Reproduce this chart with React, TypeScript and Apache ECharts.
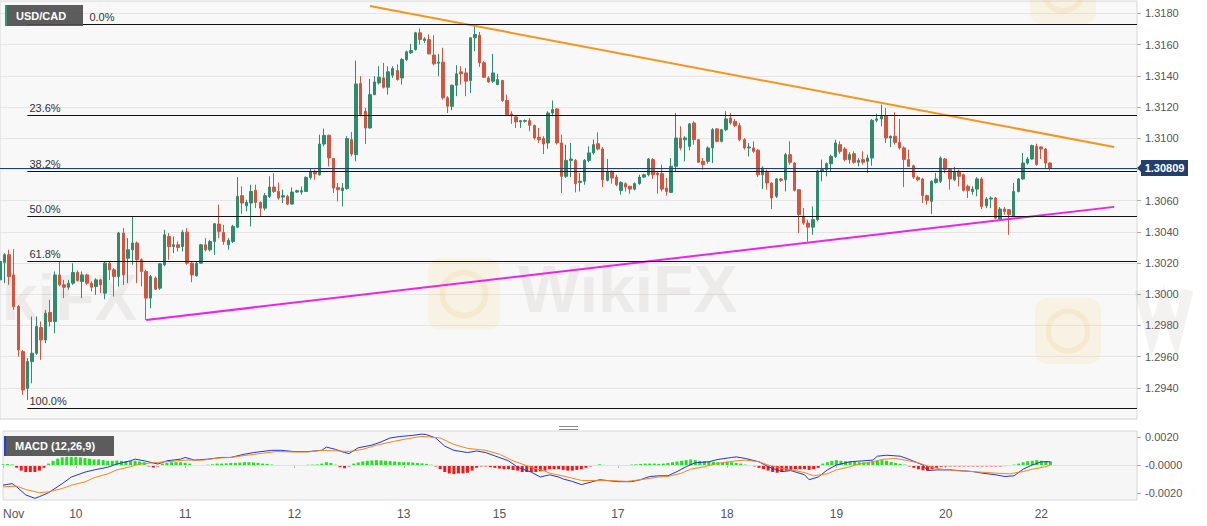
import React, { useEffect, useRef } from "react";
import * as echarts from "echarts";

// Hourly USD/CAD candles, each item: [open, close, low, high]
const candles: number[][] = [
  [1.30092, 1.3021, 1.30028, 1.30215], [1.30204, 1.30253, 1.30071, 1.30264], [1.30253, 1.30114, 1.3006, 1.30285],
  [1.30124, 1.29921, 1.299, 1.30289], [1.29921, 1.29643, 1.296, 1.2993], [1.29632, 1.29386, 1.29354, 1.29643],
  [1.29397, 1.29568, 1.29322, 1.2959], [1.29568, 1.29622, 1.29429, 1.29857], [1.29622, 1.29793, 1.29611, 1.29857],
  [1.29786, 1.29707, 1.29579, 1.29825], [1.29707, 1.29878, 1.29686, 1.299], [1.29883, 1.29825, 1.29793, 1.29964],
  [1.29825, 1.30124, 1.2975, 1.30146], [1.30124, 1.3006, 1.3005, 1.3021], [1.3006, 1.30045, 1.29975, 1.30092],
  [1.30045, 1.30071, 1.30028, 1.30092], [1.30071, 1.30139, 1.3006, 1.30199], [1.30139, 1.30088, 1.30082, 1.30153],
  [1.30082, 1.30124, 1.29975, 1.30146], [1.30124, 1.30071, 1.3006, 1.30131], [1.30071, 1.30045, 1.30018, 1.30082],
  [1.3005, 1.30092, 1.29996, 1.30103], [1.30092, 1.3006, 1.30007, 1.30099], [1.30007, 1.30199, 1.29968, 1.3021],
  [1.30199, 1.30157, 1.30092, 1.3021], [1.30157, 1.30114, 1.29985, 1.30167], [1.30114, 1.30392, 1.3005, 1.304],
  [1.30392, 1.30124, 1.3006, 1.30424], [1.30231, 1.30285, 1.30071, 1.3036], [1.30285, 1.30328, 1.30189, 1.30499],
  [1.30328, 1.30221, 1.30071, 1.30338], [1.30221, 1.30146, 1.3005, 1.30231], [1.30146, 1.29975, 1.29835, 1.30157],
  [1.29975, 1.30114, 1.2991, 1.30124], [1.30103, 1.30032, 1.30028, 1.30114], [1.30039, 1.30195, 1.30028, 1.30199],
  [1.30189, 1.30381, 1.30178, 1.30413], [1.3037, 1.30306, 1.30221, 1.30392], [1.30306, 1.30317, 1.30264, 1.3037],
  [1.30317, 1.303, 1.30274, 1.30338], [1.30306, 1.30398, 1.30274, 1.30413], [1.30398, 1.30199, 1.30189, 1.30424],
  [1.30199, 1.30124, 1.30077, 1.3021], [1.30118, 1.30199, 1.30114, 1.3021], [1.30199, 1.30317, 1.30195, 1.30323],
  [1.30317, 1.30285, 1.30274, 1.3036], [1.30285, 1.30338, 1.30274, 1.30349], [1.30338, 1.30452, 1.30253, 1.30456],
  [1.3045, 1.30403, 1.3036, 1.30574], [1.30396, 1.30338, 1.30317, 1.30445], [1.30317, 1.30345, 1.30285, 1.3036],
  [1.30338, 1.30435, 1.30328, 1.30445], [1.3043, 1.30627, 1.30424, 1.30751], [1.30632, 1.30585, 1.30516, 1.30692],
  [1.30567, 1.30589, 1.30531, 1.30606], [1.30585, 1.30659, 1.30435, 1.30702], [1.30666, 1.30589, 1.30552, 1.30702],
  [1.30589, 1.30552, 1.30499, 1.30595], [1.30552, 1.30632, 1.30537, 1.30649], [1.30627, 1.30687, 1.30617, 1.30756],
  [1.30687, 1.30659, 1.30649, 1.30777], [1.30659, 1.30617, 1.30606, 1.30717], [1.30623, 1.30632, 1.30585, 1.3067],
  [1.30627, 1.30578, 1.3057, 1.30638], [1.30578, 1.30655, 1.30574, 1.30685], [1.30655, 1.30664, 1.30649, 1.3067],
  [1.30655, 1.30664, 1.30638, 1.30691], [1.30659, 1.30749, 1.30655, 1.30756], [1.30749, 1.30788, 1.30734, 1.30805],
  [1.30788, 1.30771, 1.30734, 1.30799], [1.30766, 1.30963, 1.3076, 1.31023], [1.30963, 1.31019, 1.30948, 1.31062],
  [1.31019, 1.30874, 1.3082, 1.31023], [1.3087, 1.30681, 1.30649, 1.30874], [1.30685, 1.3067, 1.30595, 1.30713],
  [1.30664, 1.30681, 1.30563, 1.30713], [1.30677, 1.30998, 1.3067, 1.31013], [1.30991, 1.30899, 1.30884, 1.3104],
  [1.30895, 1.31348, 1.30852, 1.31498], [1.31351, 1.31152, 1.31141, 1.31398], [1.31173, 1.31066, 1.30963, 1.31194],
  [1.31066, 1.3128, 1.31062, 1.31381], [1.3128, 1.31361, 1.31276, 1.31398], [1.31355, 1.31391, 1.31344, 1.31462],
  [1.31387, 1.31327, 1.31319, 1.31483], [1.31327, 1.31426, 1.3128, 1.31462], [1.31404, 1.31447, 1.31387, 1.31462],
  [1.31434, 1.31376, 1.3137, 1.31473], [1.31387, 1.31505, 1.31344, 1.31515], [1.31505, 1.31554, 1.31494, 1.31562],
  [1.31548, 1.31562, 1.31541, 1.31605], [1.31569, 1.31676, 1.31562, 1.31682], [1.31676, 1.31633, 1.31601, 1.31704],
  [1.31627, 1.31637, 1.31612, 1.31648], [1.31633, 1.31541, 1.31537, 1.31665], [1.31533, 1.31477, 1.31468, 1.31661],
  [1.31481, 1.31488, 1.31398, 1.31541], [1.31488, 1.31259, 1.31248, 1.3158], [1.31259, 1.31205, 1.31162, 1.3127],
  [1.31205, 1.3134, 1.3118, 1.31344], [1.3134, 1.31413, 1.3127, 1.31468], [1.31426, 1.31413, 1.31344, 1.31462],
  [1.31419, 1.31366, 1.3127, 1.31451], [1.3137, 1.31644, 1.31291, 1.31648], [1.31644, 1.31665, 1.31558, 1.31719],
  [1.31661, 1.31484, 1.31458, 1.31682], [1.31484, 1.31391, 1.31387, 1.31494], [1.31387, 1.31361, 1.31355, 1.31398],
  [1.31366, 1.31419, 1.31355, 1.31541], [1.31344, 1.31376, 1.3134, 1.31413], [1.3137, 1.31242, 1.31233, 1.31374],
  [1.31242, 1.31152, 1.31147, 1.3128], [1.31156, 1.31147, 1.31092, 1.31173], [1.31137, 1.31105, 1.31066, 1.31141],
  [1.31105, 1.31113, 1.31066, 1.31113], [1.31109, 1.31113, 1.311, 1.3112], [1.31113, 1.31083, 1.31045, 1.3113],
  [1.31081, 1.31002, 1.30991, 1.31088], [1.31006, 1.30991, 1.3097, 1.31066], [1.30998, 1.30963, 1.30899, 1.31013],
  [1.3097, 1.31162, 1.30933, 1.31173], [1.31162, 1.31184, 1.31141, 1.31242], [1.31188, 1.3097, 1.3096, 1.31194],
  [1.3097, 1.30756, 1.30649, 1.31023], [1.30756, 1.30858, 1.30745, 1.30959], [1.30858, 1.30867, 1.30751, 1.3097],
  [1.30858, 1.30709, 1.30653, 1.30867], [1.30717, 1.30724, 1.30659, 1.30777], [1.30724, 1.30858, 1.30702, 1.30867],
  [1.30858, 1.30906, 1.30846, 1.30948], [1.30906, 1.30959, 1.30895, 1.30991], [1.30965, 1.30931, 1.30923, 1.31038],
  [1.30931, 1.30734, 1.30687, 1.30944], [1.3073, 1.30788, 1.30724, 1.30867], [1.30788, 1.30745, 1.30709, 1.30794],
  [1.30751, 1.30702, 1.30692, 1.30766], [1.30666, 1.30717, 1.30638, 1.30724], [1.30709, 1.30687, 1.30659, 1.30717],
  [1.30692, 1.30674, 1.30644, 1.30696], [1.30674, 1.30709, 1.30666, 1.30717], [1.30709, 1.30751, 1.30702, 1.30766],
  [1.30751, 1.30766, 1.30745, 1.30773], [1.30766, 1.30867, 1.30756, 1.30873], [1.30863, 1.30766, 1.30739, 1.30873],
  [1.30777, 1.30766, 1.30644, 1.30788], [1.30773, 1.30674, 1.30659, 1.30831], [1.30681, 1.30659, 1.30632, 1.30745],
  [1.30653, 1.3082, 1.30649, 1.30873], [1.3082, 1.31002, 1.30788, 1.31162], [1.31002, 1.30938, 1.30923, 1.31077],
  [1.30991, 1.31002, 1.30852, 1.31013], [1.30948, 1.31092, 1.30923, 1.31098], [1.31098, 1.30991, 1.30959, 1.31109],
  [1.30991, 1.30846, 1.30841, 1.30991], [1.30852, 1.30831, 1.30799, 1.30873], [1.30852, 1.30938, 1.30837, 1.30948],
  [1.30938, 1.31055, 1.30841, 1.31066], [1.3106, 1.3098, 1.30974, 1.31066], [1.3098, 1.31055, 1.30974, 1.3106],
  [1.31055, 1.31124, 1.31045, 1.31173], [1.3113, 1.31098, 1.31087, 1.31162], [1.31109, 1.31081, 1.31072, 1.31124],
  [1.31081, 1.30991, 1.3098, 1.31098], [1.30991, 1.30938, 1.30927, 1.31002], [1.30938, 1.30944, 1.30884, 1.3097],
  [1.30938, 1.30916, 1.30906, 1.3098], [1.30923, 1.30766, 1.30751, 1.30931], [1.30766, 1.30809, 1.30674, 1.3082],
  [1.30788, 1.30713, 1.3067, 1.30799], [1.30713, 1.30617, 1.30546, 1.30717], [1.30628, 1.30739, 1.30617, 1.30745],
  [1.30739, 1.3073, 1.3072, 1.30745], [1.30734, 1.30895, 1.30659, 1.30906], [1.30895, 1.30846, 1.30831, 1.3098],
  [1.30841, 1.30666, 1.30659, 1.30846], [1.3067, 1.3051, 1.30392, 1.30674], [1.30499, 1.30456, 1.30445, 1.30553],
  [1.30456, 1.3043, 1.30338, 1.30478], [1.3043, 1.30478, 1.30381, 1.30563], [1.30478, 1.30788, 1.30467, 1.30799],
  [1.30788, 1.30799, 1.30724, 1.30863], [1.30799, 1.30837, 1.30756, 1.30846], [1.30837, 1.30884, 1.30788, 1.30895],
  [1.30884, 1.3097, 1.30873, 1.30991], [1.30959, 1.30916, 1.30901, 1.3098], [1.30931, 1.30863, 1.30852, 1.30944],
  [1.30863, 1.30895, 1.30837, 1.3091], [1.30901, 1.30846, 1.30837, 1.30916], [1.30846, 1.30858, 1.3082, 1.30873],
  [1.30863, 1.30846, 1.30831, 1.30916], [1.30852, 1.30873, 1.30777, 1.30895], [1.30873, 1.31115, 1.30824, 1.31124],
  [1.31115, 1.31124, 1.31102, 1.31158], [1.31124, 1.31141, 1.31077, 1.31216], [1.31141, 1.31002, 1.3097, 1.31194],
  [1.31002, 1.31013, 1.30944, 1.31017], [1.31013, 1.30974, 1.30959, 1.31167], [1.30974, 1.30938, 1.30927, 1.31124],
  [1.30938, 1.30863, 1.30687, 1.30948], [1.30863, 1.3082, 1.30816, 1.30927], [1.30824, 1.30751, 1.30739, 1.30831],
  [1.30749, 1.30734, 1.30724, 1.3076], [1.30739, 1.30632, 1.30585, 1.30745], [1.30632, 1.30602, 1.30574, 1.30638],
  [1.30596, 1.30724, 1.30515, 1.3073], [1.30717, 1.30739, 1.30709, 1.30777], [1.30724, 1.30873, 1.30713, 1.30884],
  [1.30867, 1.30799, 1.30777, 1.30873], [1.30799, 1.30739, 1.3067, 1.30803], [1.30734, 1.30788, 1.30724, 1.30816],
  [1.30788, 1.30756, 1.30692, 1.30799], [1.30766, 1.30666, 1.30659, 1.30773], [1.30692, 1.30666, 1.30617, 1.30702],
  [1.30659, 1.30674, 1.30638, 1.30692], [1.30674, 1.30739, 1.30628, 1.30751], [1.30739, 1.30563, 1.30546, 1.30751],
  [1.30567, 1.3061, 1.30552, 1.30623], [1.3061, 1.30617, 1.30552, 1.30627], [1.30617, 1.30488, 1.30482, 1.30623],
  [1.30482, 1.30546, 1.30477, 1.30559], [1.30546, 1.30531, 1.3051, 1.30559], [1.30542, 1.3051, 1.30381, 1.30546],
  [1.30499, 1.30659, 1.30495, 1.30713], [1.30659, 1.30739, 1.30653, 1.30745], [1.30739, 1.30841, 1.30734, 1.30906],
  [1.30841, 1.30867, 1.30831, 1.3088], [1.30867, 1.30953, 1.30863, 1.30959], [1.30948, 1.30831, 1.30824, 1.30965],
  [1.30944, 1.30931, 1.30867, 1.30948], [1.30931, 1.30841, 1.30809, 1.30938], [1.30841, 1.30809, 1.30794, 1.30846],
];

// day labels on the time axis (bar index, text)
const dayLabelIndex = [0, 16, 40, 64, 88, 109, 135, 159, 183, 207, 228];
const dayLabelText = ["Nov", "10", "11", "12", "13", "15", "17", "18", "19", "20", "22"];

// Fibonacci retracement levels
const fibPrices = [1.3173, 1.31149, 1.3079, 1.305, 1.3021, 1.2927];
const fibLabels = ["0.0%", "23.6%", "38.2%", "50.0%", "61.8%", "100.0%"];
const fibStartIndex = 6;

const lastPrice = 1.30809;

// trend lines: [bar index, price]
const resistanceLine: number[][] = [[81, 1.31848], [244, 1.30944]];
const supportLine: number[][] = [[32, 1.29835], [244, 1.3056]];

// MACD (12,26,9): [bar index, value]
const macdLine: number[][] = [
  [0, -0.00144], [2, -0.00133], [3, -0.00156], [5, -0.00214], [7, -0.00238], [8, -0.00226], [10, -0.00198],
  [13, -0.00133], [15, -0.00086], [18, -0.00051], [20, -0.00035], [23, -0.00016], [25, 0.00007], [28, 0.0003],
  [29, 0.00042], [31, 0.0003], [34, 0.00007], [36, 0.0003], [39, 0.00042], [40, 0.00054], [42, 0.00035],
  [45, 0.00042], [48, 0.00054], [50, 0.00054], [53, 0.00077], [55, 0.00089], [59, 0.00105], [61, 0.00105],
  [64, 0.00096], [67, 0.00096], [70, 0.00105], [71, 0.00128], [73, 0.00112], [75, 0.00089], [76, 0.00082],
  [78, 0.00123], [81, 0.00142], [83, 0.00165], [85, 0.00193], [87, 0.00203], [90, 0.00212], [92, 0.00221],
  [93, 0.00217], [95, 0.00193], [97, 0.00135], [99, 0.00105], [102, 0.00089], [104, 0.001], [106, 0.00089],
  [108, 0.00065], [111, 0.0003], [113, -0.00016], [116, -0.00051], [118, -0.00086], [120, -0.0007], [122, -0.00086],
  [123, -0.001], [125, -0.00117], [127, -0.0014], [129, -0.00123], [131, -0.00105], [133, -0.00112], [135, -0.00119],
  [138, -0.00119], [140, -0.00105], [142, -0.00082], [144, -0.00077], [146, -0.00077], [148, -0.00047], [150, -0.00012],
  [152, 0.00016], [155, 0.00023], [157, 0.0004], [160, 0.00054], [161, 0.00058], [163, 0.00047], [166, 0.00023],
  [168, -0.00012], [171, -0.00047], [173, -0.0004], [176, -0.0007], [177, -0.00105], [179, -0.00086], [181, -0.00035],
  [183, 0], [186, 0.00023], [188, 0.00028], [191, 0.00035], [192, 0.00063], [194, 0.0007], [197, 0.00063],
  [199, 0.0004], [202, 0], [203, -0.0004], [205, -0.00035], [208, -0.00035], [210, -0.0004], [213, -0.00047],
  [215, -0.00058], [218, -0.0007], [220, -0.00082], [222, -0.00077], [224, -0.0003], [226, 0], [228, 0.00023],
  [230, 0.00023],
];
const signalLine: number[][] = [
  [0, -0.00156], [3, -0.00151], [5, -0.00175], [8, -0.00198], [10, -0.00191], [13, -0.00168], [15, -0.00144],
  [18, -0.00121], [20, -0.00091], [23, -0.00063], [25, -0.00035], [28, -0.00012], [30, 0.00007], [34, 0.00019],
  [37, 0.00026], [40, 0.00035], [44, 0.00035], [47, 0.00049], [50, 0.00054], [54, 0.00072], [57, 0.00084],
  [60, 0.00096], [64, 0.00093], [67, 0.00093], [70, 0.00105], [74, 0.001], [76, 0.00096], [79, 0.00112],
  [82, 0.00142], [86, 0.0017], [89, 0.00189], [92, 0.00205], [96, 0.00193], [99, 0.00147], [102, 0.00119],
  [106, 0.00105], [109, 0.00077], [112, 0.0003], [116, -0.00016], [119, -0.00044], [120, -0.00058], [124, -0.00086],
  [127, -0.0011], [130, -0.00112], [134, -0.00112], [137, -0.00117], [140, -0.00105], [144, -0.00086], [146, -0.00082],
  [149, -0.00058], [151, -0.0003], [154, -0.00012], [157, 0.00012], [161, 0.0003], [163, 0.00035], [166, 0.00023],
  [168, 0], [171, -0.00023], [173, -0.00035], [176, -0.00054], [178, -0.00077], [181, -0.00063], [183, -0.00035],
  [186, -0.00012], [188, 0.00007], [191, 0.00023], [193, 0.0004], [196, 0.00047], [198, 0.00035], [201, 0.00016],
  [203, -0.00007], [206, -0.0003], [209, -0.0004], [213, -0.00047], [216, -0.00054], [218, -0.00058], [221, -0.00063],
  [224, -0.00047], [226, -0.0003], [229, -0.00012], [230, 0],
];
const macdHist: number[] = [
  0.00005, 0.00006, 0.00004, -0.0002, -0.0004, -0.0005, -0.0005, -0.0005, -0.0004, -0.0002,
  0.0001, 0.0003, 0.00045, 0.00055, 0.00058, 0.00058, 0.00058, 0.00055, 0.0005, 0.00045,
  0.0004, 0.0004, 0.00035, 0.0003, 0.0003, 0.00032, 0.0003, 0.00028, 0.0003, 0.0003,
  0.00025, 0.0002, -0.0001, -0.00018, -0.0001, 0.0001, 0.00015, 0.0002, 0.0002, 0.0002,
  0.00015, 0.0001, -0.00003, -0.00003, -0.00002, 0.00002, 0.00005, 0.0001, 0.0001, 0.00012,
  0.00015, 0.00015, 0.00017, 0.0002, 0.0002, 0.00018, 0.00015, 0.0001, 0.00008, 0.00003,
  -0.00002, -0.00003, -0.00003, -0.00003, -0.00003, -0.00002, -0.00002, 0.00002, 0.00003, 0.00004,
  0.0001, 0.0002, 0.00015, 0.00002, -0.00015, -0.00023, -0.0001, 0.0001, 0.00018, 0.00025,
  0.0003, 0.00033, 0.00035, 0.00033, 0.0003, 0.00028, 0.00025, 0.00022, 0.0002, 0.0002,
  0.00018, 0.00015, 0.00012, 0.00008, 0.00002, -0.0001, -0.0003, -0.0005, -0.0006, -0.00065,
  -0.0006, -0.0006, -0.00055, -0.0004, -0.0002, -0.0001, -0.0001, -0.00015, -0.0002, -0.00025,
  -0.0003, -0.0003, -0.00035, -0.0004, -0.0005, -0.0005, -0.0005, -0.0005, -0.00045, -0.0004,
  -0.0003, -0.0003, -0.0003, -0.00035, -0.0004, -0.0004, -0.00035, -0.0003, -0.0002, -0.0001,
  -0.00002, 0.00005, 0.00001, -0.00003, -0.00003, -0.00003, -0.00003, -0.00002, 0.00003, 0.00005,
  0.00008, 0.0001, 0.0001, 0.0001, 0.00008, 0.0001, 0.00015, 0.0002, 0.00025, 0.0003,
  0.00035, 0.0004, 0.00035, 0.0003, 0.00028, 0.00025, 0.00022, 0.0002, 0.0002, 0.00022,
  0.0002, 0.00015, 0.0001, 0.00003, -0.00003, -0.0001, -0.0002, -0.0003, -0.0004, -0.0005,
  -0.00055, -0.0005, -0.0004, -0.00035, -0.0003, -0.0003, -0.0003, -0.00035, -0.0003, -0.0002,
  0.0001, 0.0002, 0.0003, 0.00035, 0.0003, 0.00028, 0.00025, 0.00022, 0.0002, 0.0002,
  0.00022, 0.00028, 0.00033, 0.00035, 0.0003, 0.00022, 0.00015, 0.00008, 0.00003, -0.0001,
  -0.0002, -0.0003, -0.00038, -0.0004, -0.0003, -0.0002, -0.00012, -0.0001, -0.0001, -0.0001,
  -0.0001, -0.0001, -0.0001, -0.0001, -0.0001, -0.0001, -0.0001, -0.0001, -0.0001, -0.0001,
  -0.00008, -0.00005, 0.00003, 0.0001, 0.0002, 0.00028, 0.0003, 0.00035, 0.0003, 0.00028,
  0.00025,
];
const macdTicks = [-0.002, 0, 0.002];

const SLOTS = 250;
const FONT = '"Liberation Sans", Arial, Helvetica, sans-serif';
const UP = "#2f8a6e";
const DOWN = "#d2553f";
const PRICE_BLUE = "#22406a";

export default function App() {
  const ref = useRef<HTMLDivElement>(null);

  useEffect(() => {
    const el = ref.current;
    if (!el) return;
    const chart = echarts.init(el, undefined, { renderer: "svg" });

    const cats = Array.from({ length: SLOTS }, (_, i) => String(i));
    const labelAt = new Map<number, string>();
    dayLabelIndex.forEach((idx, k) => labelAt.set(idx, dayLabelText[k]));
    const showDay = (i: number) => labelAt.has(i);

    const hist = macdHist.map((v) => ({
      value: v,
      itemStyle: { color: v >= 0 ? "#22e022" : "#f01818" },
    }));

    // the top (0.0%) label is nudged clear of the symbol box that sits over it
    const fibMarks: any[] = fibPrices.map((p, k) => [
      { coord: [fibStartIndex, p], label: { formatter: fibLabels[k], offset: k === 0 ? [60, 0] : [0, 0] } },
      { coord: [SLOTS - 1, p] },
    ]);
    const priceMark: any = [
      { coord: [0, lastPrice], lineStyle: { color: PRICE_BLUE, width: 1, type: "solid" }, label: { show: false } },
      { coord: [SLOTS - 1, lastPrice] },
    ];

    chart.setOption({
      animation: false,
      backgroundColor: "#ffffff",
      textStyle: { fontFamily: FONT },
      grid: [
        { left: 0, top: 1, width: 1137, height: 418, show: true, backgroundColor: "#f8f8f8", borderColor: "#d8d8d8", borderWidth: 1 },
        { left: 0, top: 431, width: 1137, height: 69, show: true, backgroundColor: "#f6f6f6", borderColor: "#d8d8d8", borderWidth: 1 },
      ],
      xAxis: [
        {
          type: "category", gridIndex: 0, data: cats, boundaryGap: false,
          axisLine: { show: false }, axisTick: { show: false }, axisLabel: { show: false }, splitLine: { show: false },
        },
        {
          type: "category", gridIndex: 1, data: cats, boundaryGap: false,
          axisLine: { show: false },
          axisTick: { show: true, interval: (i: number) => showDay(i), length: 3, lineStyle: { color: "#b5b5b5" } },
          axisLabel: {
            interval: (i: number) => showDay(i),
            formatter: (_v: string, i: number) => labelAt.get(i) ?? "",
            color: "#555", fontSize: 12, margin: 8, fontFamily: FONT,
            alignMinLabel: "left",
          },
          splitLine: { show: false },
        },
      ],
      yAxis: [
        {
          type: "value", gridIndex: 0, position: "right", min: 1.292, max: 1.3188, interval: 0.002,
          axisLine: { show: false },
          axisTick: { show: true, length: 4, lineStyle: { color: "#aaa" } },
          axisLabel: {
            // the last-price tag sits on top of the tick label nearest to it
            formatter: (v: number) => (Math.abs(v - lastPrice) < 0.0008 ? "" : v.toFixed(4)),
            color: "#555", fontSize: 11, margin: 8, showMinLabel: false, showMaxLabel: false, fontFamily: FONT,
          },
          splitLine: { show: true, lineStyle: { color: "#e5e5e5", width: 1 } },
        },
        {
          type: "value", gridIndex: 1, position: "right", min: -0.0025, max: 0.00243,
          axisLine: { show: false },
          axisTick: { show: true, length: 4, lineStyle: { color: "#aaa" }, customValues: macdTicks },
          axisLabel: {
            customValues: macdTicks,
            formatter: (v: number) => (Math.abs(v) < 1e-9 ? "-0.0000" : v.toFixed(4)),
            color: "#555", fontSize: 11, margin: 8, fontFamily: FONT,
          },
          splitLine: { show: false },
        },
      ],
      series: [
        {
          type: "candlestick", xAxisIndex: 0, yAxisIndex: 0, data: candles, barWidth: 3, clip: false,
          itemStyle: { color: UP, color0: DOWN, borderColor: UP, borderColor0: DOWN, borderWidth: 1 },
          markLine: {
            silent: true, symbol: "none", animation: false,
            lineStyle: { color: "#111", width: 1, type: "solid" },
            label: { show: true, position: "insideStartTop", color: "#333", fontSize: 11, fontFamily: FONT, distance: 2 },
            data: [...fibMarks, priceMark],
          },
        },
        {
          type: "line", xAxisIndex: 0, yAxisIndex: 0, data: resistanceLine, showSymbol: false, symbol: "none",
          lineStyle: { color: "#f7941d", width: 2 }, z: 4,
        },
        {
          type: "line", xAxisIndex: 0, yAxisIndex: 0, data: supportLine, showSymbol: false, symbol: "none",
          lineStyle: { color: "#ee22ee", width: 2 }, z: 4,
        },
        {
          type: "bar", xAxisIndex: 1, yAxisIndex: 1, data: hist, barWidth: 3,
          markLine: {
            silent: true, symbol: "none", animation: false, label: { show: false },
            lineStyle: { color: "#e0e0e0", width: 1, type: "solid" },
            data: macdTicks.map((v) => ({ yAxis: v })),
          },
        },
        {
          type: "line", xAxisIndex: 1, yAxisIndex: 1, data: macdLine, showSymbol: false, symbol: "none",
          lineStyle: { color: "#2236d6", width: 1 }, z: 5,
        },
        {
          type: "line", xAxisIndex: 1, yAxisIndex: 1, data: signalLine, showSymbol: false, symbol: "none",
          lineStyle: { color: "#f5861f", width: 1 }, z: 5,
        },
      ],
    });

    const py = chart.convertToPixel({ yAxisIndex: 0 }, lastPrice) as number;
    const wmText = "rgba(150,115,115,0.10)";
    const wmLogo = "rgba(245,205,110,0.14)";
    const logo = (x: number, y: number, s: number) => ({
      type: "group", x, y, z: 1, silent: true,
      children: [
        { type: "rect", shape: { x: 0, y: 0, width: s, height: s, r: s * 0.18 }, style: { fill: wmLogo } },
        { type: "circle", shape: { cx: s / 2, cy: s / 2, r: s * 0.3 }, style: { fill: "none", stroke: "rgba(235,185,80,0.16)", lineWidth: s * 0.08 } },
      ],
    });

    chart.setOption({
      graphic: [
        logo(428, 258, 72),
        { type: "text", x: 518, y: 256, z: 1, silent: true, style: { text: "WikiFX", fill: wmText, font: `bold 66px ${FONT}` } },
        { type: "text", x: 2, y: 266, z: 1, silent: true, style: { text: "kiFX", fill: wmText, font: `bold 64px ${FONT}` } },
        logo(1035, 298, 66),
        logo(1030, -42, 66),
        // partial "W" of the right-hand watermark, drawn as a shape
        {
          type: "polyline", z: 1, silent: true,
          shape: { points: [[1140, 290], [1152, 338], [1164, 302], [1176, 338], [1188, 290]] },
          style: { stroke: "rgba(150,115,115,0.10)", lineWidth: 11, fill: "none" },
        },
        // symbol box
        { type: "rect", z: 100, shape: { x: 5, y: 5, width: 78, height: 21 }, style: { fill: "rgba(78,78,78,0.92)" } },
        { type: "rect", z: 101, shape: { x: 5, y: 5, width: 2, height: 21 }, style: { fill: "#2a9a74" } },
        { type: "text", z: 102, x: 16, y: 15.5, style: { text: "USD/CAD", fill: "#ffffff", font: `bold 11px ${FONT}`, verticalAlign: "middle" } },
        // MACD box
        { type: "rect", z: 100, shape: { x: 4, y: 436, width: 110, height: 20 }, style: { fill: "rgba(78,78,78,0.92)" } },
        { type: "rect", z: 101, shape: { x: 4, y: 436, width: 2, height: 20 }, style: { fill: "#1e3fd8" } },
        { type: "text", z: 102, x: 15, y: 446, style: { text: "MACD (12,26,9)", fill: "#ffffff", font: `bold 11px ${FONT}`, verticalAlign: "middle" } },
        // panel handle
        { type: "line", z: 100, shape: { x1: 559, y1: 426.5, x2: 578, y2: 426.5 }, style: { stroke: "#888", lineWidth: 1 } },
        { type: "line", z: 100, shape: { x1: 559, y1: 429.5, x2: 578, y2: 429.5 }, style: { stroke: "#888", lineWidth: 1 } },
        // last price tag
        { type: "polygon", z: 100, shape: { points: [[1137, py], [1142, py - 5], [1142, py + 5]] }, style: { fill: PRICE_BLUE } },
        { type: "rect", z: 100, shape: { x: 1141, y: py - 8, width: 47, height: 16 }, style: { fill: PRICE_BLUE } },
        { type: "text", z: 101, x: 1164.5, y: py, style: { text: lastPrice.toFixed(5), fill: "#ffffff", font: `bold 11px ${FONT}`, align: "center", verticalAlign: "middle" } },
      ],
    });

    return () => chart.dispose();
  }, []);

  return (
    <div
      ref={ref}
      style={{ position: "absolute", left: 0, top: 0, width: 1207, height: 526, background: "#ffffff" }}
    />
  );
}
